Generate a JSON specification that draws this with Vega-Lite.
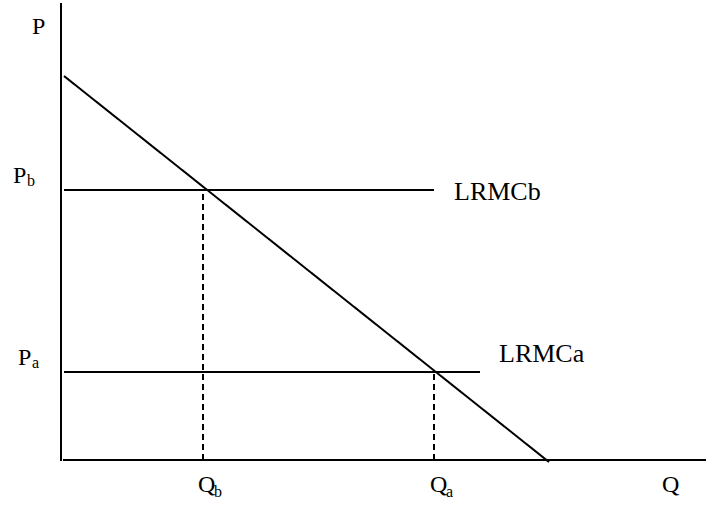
{
  "$schema": "https://vega.github.io/schema/vega-lite/v6.json",
  "width": 645,
  "height": 460,
  "autosize": {"type": "none"},
  "padding": {"left": 61, "top": 0, "right": 0, "bottom": 46},
  "background": "white",
  "config": {"view": {"stroke": null}},
  "datasets": {
    "lines": [
      {"id": "axisP", "o": 0, "q": 0, "p": -1, "style": "solid"},
      {"id": "axisP", "o": 1, "q": 0, "p": 457, "style": "solid"},
      {"id": "axisQ", "o": 0, "q": 2, "p": 0, "style": "solid"},
      {"id": "axisQ", "o": 1, "q": 645, "p": 0, "style": "solid"},
      {"id": "demand", "o": 0, "q": 3, "p": 384, "style": "solid"},
      {"id": "demand", "o": 1, "q": 488, "p": -2, "style": "solid"},
      {"id": "LRMCb", "o": 0, "q": 3, "p": 270, "style": "solid"},
      {"id": "LRMCb", "o": 1, "q": 373, "p": 270, "style": "solid"},
      {"id": "LRMCa", "o": 0, "q": 3, "p": 88, "style": "solid"},
      {"id": "LRMCa", "o": 1, "q": 419, "p": 88, "style": "solid"},
      {"id": "Qb", "o": 0, "q": 142, "p": 0, "style": "dashed"},
      {"id": "Qb", "o": 1, "q": 142, "p": 270, "style": "dashed"},
      {"id": "Qa", "o": 0, "q": 373, "p": 0, "style": "dashed"},
      {"id": "Qa", "o": 1, "q": 373, "p": 88, "style": "dashed"}
    ],
    "labels": [
      {"t": "P", "q": -29, "p": 426},
      {"t": "P", "q": -48, "p": 277},
      {"t": "P", "q": -43, "p": 95},
      {"t": "Q", "q": 137, "p": -32},
      {"t": "Q", "q": 369, "p": -32},
      {"t": "Q", "q": 601, "p": -32}
    ],
    "curveLabels": [
      {"t": "LRMCb", "q": 393, "p": 260},
      {"t": "LRMCa", "q": 438, "p": 98}
    ],
    "subs": [
      {"t": "b", "q": -34, "p": 274},
      {"t": "a", "q": -29, "p": 92},
      {"t": "b", "q": 153, "p": -37},
      {"t": "a", "q": 385, "p": -37}
    ]
  },
  "layer": [
    {
      "data": {"name": "lines"},
      "mark": {"type": "line", "color": "black", "strokeWidth": 2},
      "encoding": {
        "x": {"field": "q", "type": "quantitative", "scale": {"domain": [0, 645], "nice": false, "zero": false}, "axis": null},
        "y": {"field": "p", "type": "quantitative", "scale": {"domain": [0, 460], "nice": false, "zero": false}, "axis": null},
        "detail": {"field": "id"},
        "order": {"field": "o"},
        "strokeDash": {"field": "style", "type": "nominal", "scale": {"domain": ["solid", "dashed"], "range": [[1, 0], [6, 4]]}, "legend": null}
      }
    },
    {
      "data": {"name": "labels"},
      "mark": {"type": "text", "font": "Liberation Serif, DejaVu Serif, serif", "fontSize": 24, "align": "left", "baseline": "alphabetic", "color": "black"},
      "encoding": {
        "x": {"field": "q", "type": "quantitative"},
        "y": {"field": "p", "type": "quantitative"},
        "text": {"field": "t"}
      }
    },
    {
      "data": {"name": "curveLabels"},
      "mark": {"type": "text", "font": "Liberation Serif, DejaVu Serif, serif", "fontSize": 26, "align": "left", "baseline": "alphabetic", "color": "black"},
      "encoding": {
        "x": {"field": "q", "type": "quantitative"},
        "y": {"field": "p", "type": "quantitative"},
        "text": {"field": "t"}
      }
    },
    {
      "data": {"name": "subs"},
      "mark": {"type": "text", "font": "Liberation Serif, DejaVu Serif, serif", "fontSize": 16, "align": "left", "baseline": "alphabetic", "color": "black"},
      "encoding": {
        "x": {"field": "q", "type": "quantitative"},
        "y": {"field": "p", "type": "quantitative"},
        "text": {"field": "t"}
      }
    }
  ]
}
